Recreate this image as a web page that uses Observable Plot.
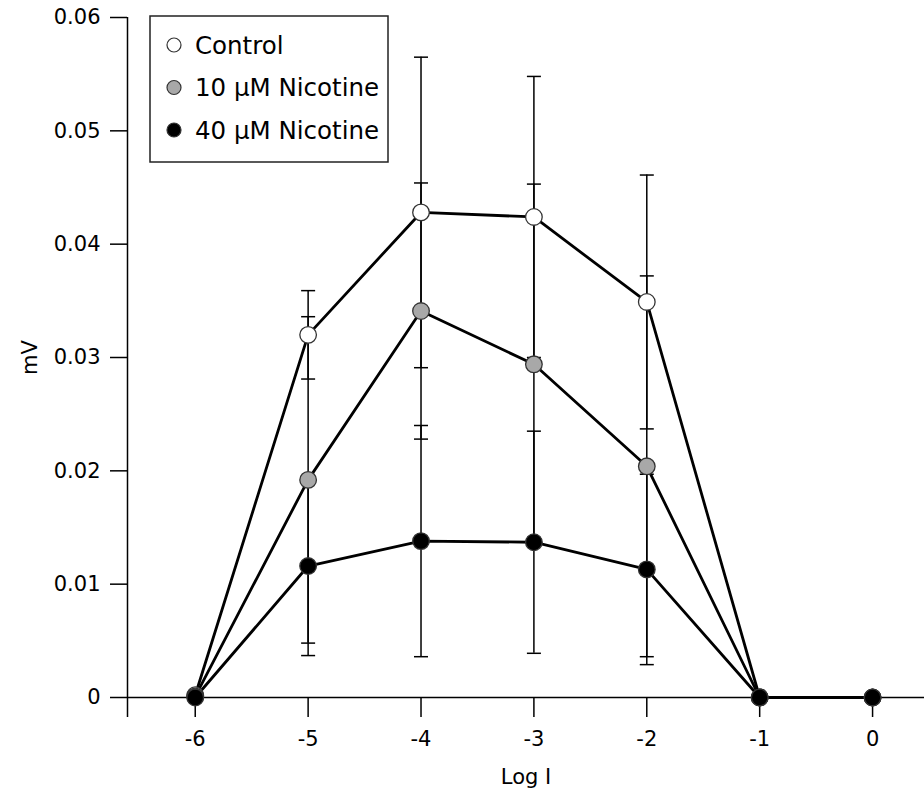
<!DOCTYPE html>
<html>
<head>
<meta charset="utf-8">
<script src="https://cdn.jsdelivr.net/npm/d3@7"></script>
<script src="https://cdn.jsdelivr.net/npm/@observablehq/plot@0.6"></script>
<style>
  html, body { margin: 0; padding: 0; background: #fff; }
  #wrap { position: relative; width: 924px; height: 796px; font-family: "DejaVu Sans", sans-serif; }
  #legend { position: absolute; left: 0; top: 0; }
</style>
</head>
<body>
<div id="wrap"></div>
<script>
// ---- data ----
const logI = [-6, -5, -4, -3, -2, -1, 0];
const seriesNames = ["Control", "10 µM Nicotine", "40 µM Nicotine"];
const controlMean = [0.0002, 0.0320, 0.0428, 0.0424, 0.0349, 0, 0];
const controlErr  = [0, 0.0039, 0.0137, 0.0124, 0.0112, 0, 0];
const nic10Mean   = [0.0001, 0.0192, 0.0341, 0.0294, 0.0204, 0, 0];
const nic10Err    = [0, 0.0144, 0.0113, 0.0159, 0.0168, 0, 0];
const nic40Mean   = [0, 0.0116, 0.0138, 0.0137, 0.0113, 0, 0];
const nic40Err    = [0, 0.0079, 0.0102, 0.0098, 0.0084, 0, 0];
const seriesFills = ["#ffffff", "#a8a8a8", "#000000"];
const xTicks = [-6, -5, -4, -3, -2, -1, 0];
const xTickLabels = ["-6", "-5", "-4", "-3", "-2", "-1", "0"];
const yTicks = [0, 0.01, 0.02, 0.03, 0.04, 0.05, 0.06];
const yTickLabels = ["0", "0.01", "0.02", "0.03", "0.04", "0.05", "0.06"];
const xDomain = [-6.6, 0.46];
const yDomain = [0, 0.06];
const yAxisLow = -0.00176;

// ---- build table ----
const means = [controlMean, nic10Mean, nic40Mean];
const errs = [controlErr, nic10Err, nic40Err];
const rows = [];
seriesNames.forEach((s, k) => {
  logI.forEach((x, i) => rows.push({series: s, x, y: means[k][i], e: errs[k][i], fill: seriesFills[k]}));
});
const errRows = rows.filter(d => d.e > 0);
const capRows = errRows.flatMap(d => [{x: d.x, y: d.y - d.e}, {x: d.x, y: d.y + d.e}]);

const capSymbol = {
  draw(ctx, size) {
    const w = Math.sqrt(size / Math.PI);
    ctx.moveTo(-w, 0);
    ctx.lineTo(w, 0);
  }
};

const chart = Plot.plot({
  width: 924,
  height: 796,
  marginLeft: 127,
  marginRight: 0,
  marginTop: 17,
  marginBottom: 99,
  x: {domain: xDomain},
  y: {domain: yDomain},
  style: {fontFamily: "DejaVu Sans, sans-serif", fontSize: "21px", color: "#000", background: "#fff", overflow: "visible"},
  marks: [
    Plot.axisY({ticks: yTicks, tickFormat: (d, i) => yTickLabels[i], tickSize: 17, tickPadding: 10,
      label: "mV", labelAnchor: "center", labelOffset: 105, labelArrow: "none", strokeWidth: 1.5}),
    Plot.axisX({ticks: xTicks, tickFormat: (d, i) => xTickLabels[i], tickSize: 20, tickPadding: 14,
      label: "Log I", labelAnchor: "center", labelOffset: 86, labelArrow: "none", strokeWidth: 1.5}),
    Plot.ruleX([xDomain[0]], {y1: yAxisLow, y2: yDomain[1], stroke: "#000", strokeWidth: 1.5}),
    Plot.ruleY([0], {stroke: "#000", strokeWidth: 1.5}),
    Plot.ruleX(errRows, {x: "x", y1: d => d.y - d.e, y2: d => d.y + d.e, stroke: "#000", strokeWidth: 1.5}),
    Plot.dot(capRows, {x: "x", y: "y", r: 7, symbol: capSymbol, fill: "none", stroke: "#000", strokeWidth: 1.5}),
    Plot.line(rows, {x: "x", y: "y", z: "series", stroke: "#000", strokeWidth: 2.8}),
    Plot.dot(rows, {x: "x", y: "y", r: 8.3, fill: "fill", stroke: "#333", strokeWidth: 1.3})
  ]
});

const wrap = document.getElementById("wrap");
wrap.appendChild(chart);

// ---- legend ----
const ns = "http://www.w3.org/2000/svg";
const leg = document.createElementNS(ns, "svg");
leg.setAttribute("id", "legend");
leg.setAttribute("width", 924);
leg.setAttribute("height", 200);
leg.style.pointerEvents = "none";
const box = document.createElementNS(ns, "rect");
box.setAttribute("x", 150); box.setAttribute("y", 16);
box.setAttribute("width", 238); box.setAttribute("height", 146);
box.setAttribute("fill", "#fff"); box.setAttribute("stroke", "#222"); box.setAttribute("stroke-width", 1.5);
leg.appendChild(box);
seriesNames.forEach((s, k) => {
  const cy = 45 + k * 42.5;
  const c = document.createElementNS(ns, "circle");
  c.setAttribute("cx", 174); c.setAttribute("cy", cy); c.setAttribute("r", 7);
  c.setAttribute("fill", seriesFills[k]); c.setAttribute("stroke", "#333"); c.setAttribute("stroke-width", 1.2);
  leg.appendChild(c);
  const t = document.createElementNS(ns, "text");
  t.setAttribute("x", 195); t.setAttribute("y", cy);
  t.setAttribute("dy", "0.36em");
  t.setAttribute("font-family", "DejaVu Sans, sans-serif");
  t.setAttribute("font-size", "24.5px");
  t.textContent = s;
  leg.appendChild(t);
});
wrap.appendChild(leg);
</script>
</body>
</html>
